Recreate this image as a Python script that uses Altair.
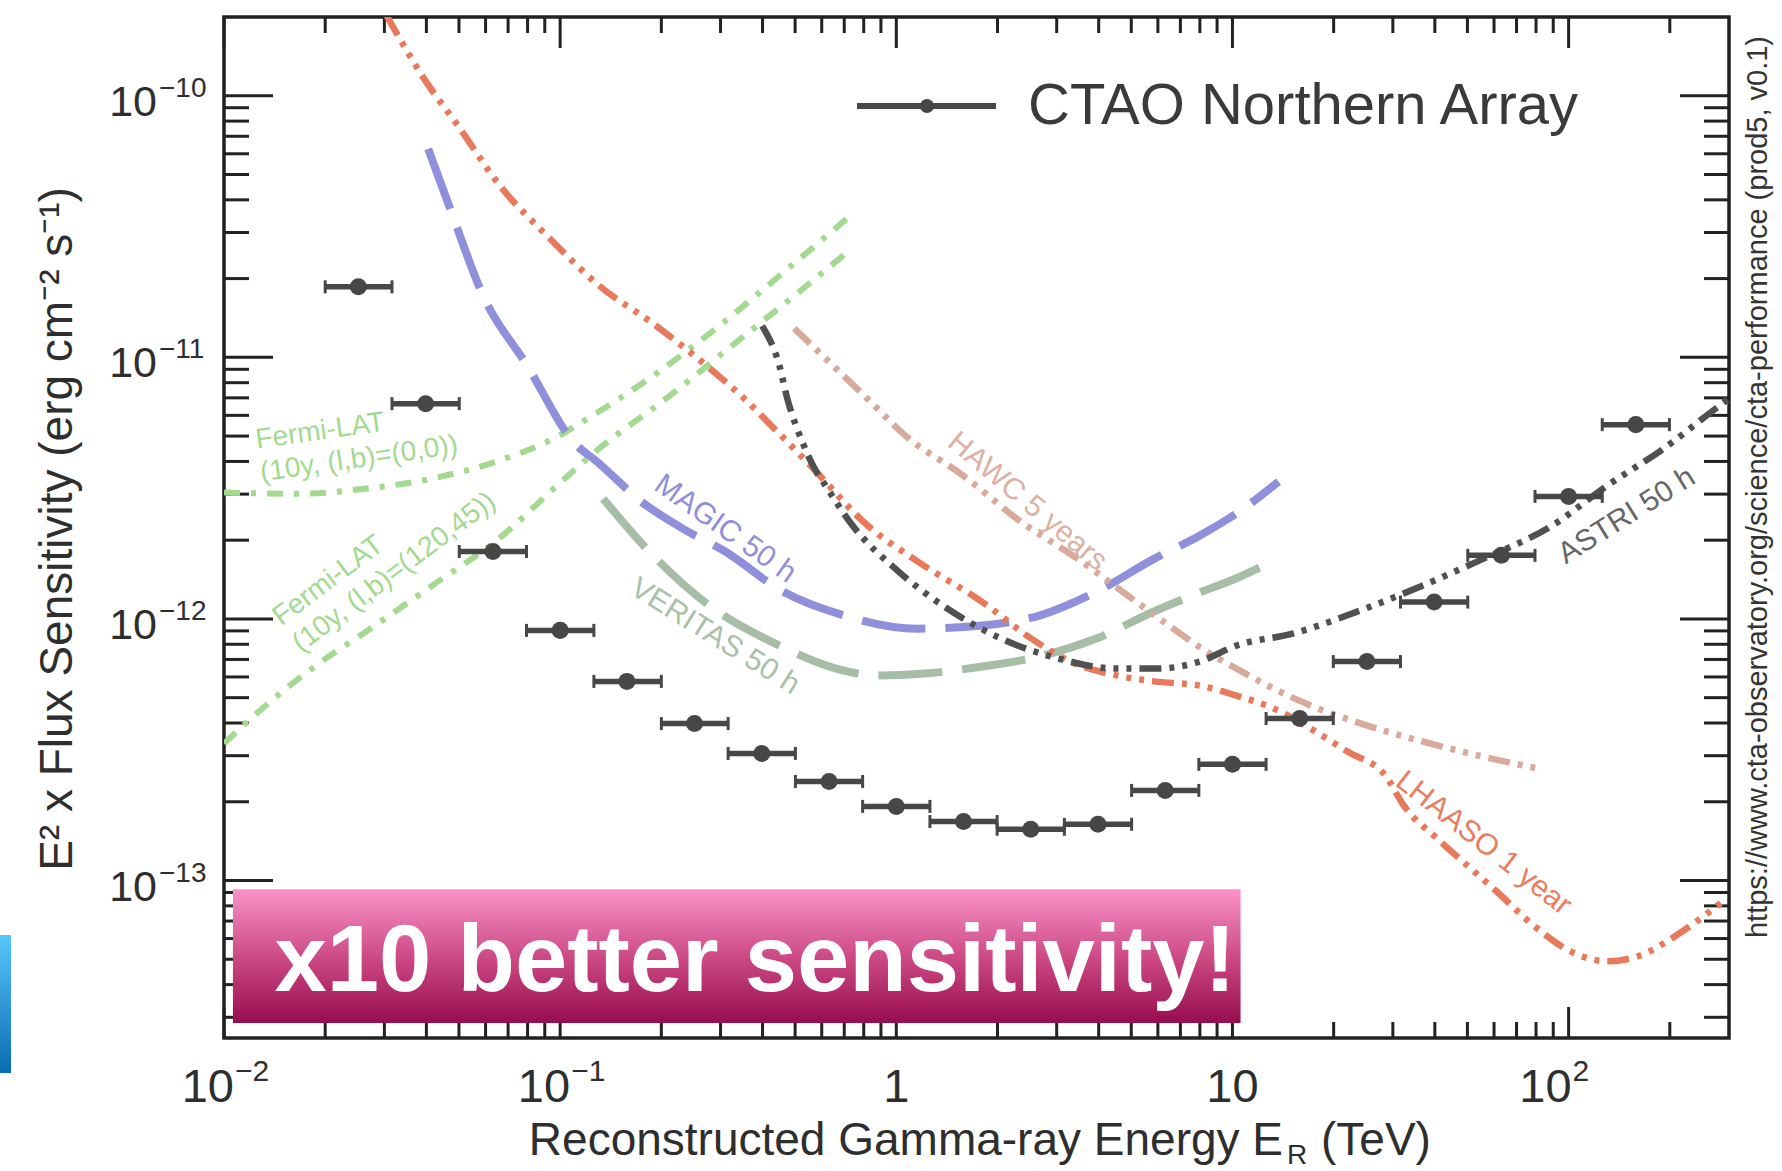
import altair as alt
import pandas as pd

# ---------------- data ----------------
# CTAO Northern Array (prod5) differential sensitivity, 5 bins per decade
ctao_energy = [0.0251, 0.0398, 0.0631, 0.1, 0.158, 0.251, 0.398, 0.631, 1.0, 1.585,
               2.512, 3.981, 6.310, 10.0, 15.85, 25.12, 39.81, 63.10, 100.0, 158.5]
ctao_flux = [1.86e-11, 6.65e-12, 1.81e-12, 9.04e-13, 5.77e-13, 3.98e-13, 3.06e-13, 2.39e-13,
             1.92e-13, 1.68e-13, 1.57e-13, 1.64e-13, 2.21e-13, 2.78e-13, 4.16e-13, 6.87e-13,
             1.16e-12, 1.75e-12, 2.94e-12, 5.53e-12]
ctao_bin_edges = [0.0200, 0.0316, 0.0501, 0.0794, 0.126, 0.200, 0.316, 0.501, 0.794, 1.259, 1.995,
                  3.162, 5.012, 7.943, 12.59, 19.95, 31.62, 50.12, 79.43, 125.9, 199.5]

lhaaso_E = [0.0305, 0.0394, 0.0497, 0.0662, 0.0933, 0.1306, 0.193, 0.279, 0.353, 0.425, 0.566,
            0.820, 1.156, 1.803, 2.523, 3.296, 4.519, 5.861, 7.980, 10.28, 13.24, 17.06, 21.98,
            28.51, 32.28, 41.59, 61.09, 78.70, 101.4, 130.6, 160.3, 218.3, 295.1]
lhaaso_F = [2.02e-10, 1.16e-10, 7.67e-11, 4.53e-11, 2.84e-11, 1.88e-11, 1.32e-11, 9.06e-12,
            6.95e-12, 5.48e-12, 3.76e-12, 2.28e-12, 1.66e-12, 1.16e-12, 8.41e-13, 6.87e-13,
            6.08e-13, 5.77e-13, 5.56e-13, 5.09e-13, 4.55e-13, 3.81e-13, 3.11e-13, 2.52e-13,
            1.94e-13, 1.41e-13, 9.08e-14, 6.73e-14, 5.36e-14, 4.91e-14, 5.13e-14, 6.40e-14, 8.55e-14]

magic_E = [0.0405, 0.0474, 0.0590, 0.0798, 0.1094, 0.1306, 0.1742, 0.2323, 0.3097, 0.461, 0.700,
           1.156, 1.803, 2.667, 3.936, 5.861, 7.980, 10.28, 13.71]
magic_F = [6.27e-11, 3.61e-11, 1.72e-11, 9.29e-12, 4.76e-12, 3.93e-12, 2.81e-12, 2.21e-12, 1.81e-12,
           1.27e-12, 1.03e-12, 9.18e-13, 9.44e-13, 1.03e-12, 1.27e-12, 1.70e-12, 2.08e-12, 2.53e-12,
           3.35e-12]

veritas_E = [0.1343, 0.1841, 0.279, 0.449, 0.662, 0.883, 1.211, 1.803, 2.667, 3.936, 5.861,
             7.980, 10.28, 13.24]
veritas_F = [2.88e-12, 1.81e-12, 1.12e-12, 7.91e-13, 6.46e-13, 6.08e-13, 6.18e-13, 6.58e-13,
             7.18e-13, 8.41e-13, 1.07e-12, 1.26e-12, 1.43e-12, 1.67e-12]

hawc_E = [0.497, 0.820, 1.064, 1.581, 2.339, 3.459, 4.875, 6.668, 8.375, 10.28, 13.24, 17.06,
          25.06, 36.73, 53.58, 80.91]
hawc_F = [1.29e-11, 6.95e-12, 5.02e-12, 3.53e-12, 2.36e-12, 1.70e-12, 1.23e-12, 9.18e-13,
          7.50e-13, 6.46e-13, 5.42e-13, 4.67e-13, 3.92e-13, 3.40e-13, 3.01e-13, 2.68e-13]

astri_E = [0.399, 0.449, 0.474, 0.525, 0.578, 0.615, 0.740, 1.014, 1.459, 2.051, 3.034, 4.519,
           6.026, 7.980, 10.28, 15.10, 25.06, 36.73, 53.58, 89.54, 130.6, 191.9, 266.7, 299.2]
astri_F = [1.32e-11, 9.29e-12, 6.95e-12, 4.76e-12, 3.66e-12, 3.24e-12, 2.28e-12, 1.52e-12,
           1.07e-12, 8.41e-13, 7.06e-13, 6.46e-13, 6.46e-13, 6.87e-13, 7.91e-13, 8.79e-13,
           1.10e-12, 1.34e-12, 1.66e-12, 2.28e-12, 3.24e-12, 4.48e-12, 6.21e-12, 6.95e-12]

fermi00_E = [0.0100, 0.0167, 0.0265, 0.0416, 0.0658, 0.0993, 0.114, 0.1841, 0.291, 0.449, 0.724]
fermi00_F = [3.04e-12, 3.01e-12, 3.15e-12, 3.44e-12, 4.03e-12, 5.02e-12, 5.58e-12, 8.30e-12,
             1.29e-11, 2.05e-11, 3.45e-11]

fermi12045_E = [0.0100, 0.0130, 0.0188, 0.0265, 0.0416, 0.0658, 0.0993, 0.1306, 0.2065, 0.325,
                0.514, 0.724]
fermi12045_F = [3.34e-13, 4.55e-13, 6.64e-13, 8.95e-13, 1.34e-12, 2.03e-12, 3.29e-12, 4.48e-12,
                6.95e-12, 1.11e-11, 1.78e-11, 2.56e-11]

# curve labels: text, anchor energy, anchor flux, angle, colour
label_text = ["MAGIC 50 h", "VERITAS 50 h", "HAWC 5 years", "ASTRI 50 h", "LHAASO 1 year"]
label_E = [0.310, 0.289, 2.455, 148.9, 55.85]
label_F = [2.21e-12, 8.57e-13, 2.81e-12, 2.48e-12, 1.39e-13]
label_angle = [35, 32, 40, 328, 38]
label_color = ["#8f8fdb", "#a9c0a9", "#dcb0a3", "#666666", "#ea7d5f"]

fermi_label_text = ["Fermi-LAT\n(10y, (l,b)=(0,0))", "Fermi-LAT\n(10y, (l,b)=(120,45))"]
fermi_label_E = [0.01253, 0.01479]
fermi_label_F = [4.48e-12, 9.35e-13]
fermi_label_angle = [352, 323]

# axis ticks and labels
x_major = [0.01, 0.1, 1, 10, 100]
x_minor = [0.02, 0.03, 0.04, 0.05, 0.06, 0.07, 0.08, 0.09,
           0.2, 0.3, 0.4, 0.5, 0.6, 0.7, 0.8, 0.9,
           2, 3, 4, 5, 6, 7, 8, 9,
           20, 30, 40, 50, 60, 70, 80, 90, 200]
x_label_base = ["10", "10", "1", "10", "10"]
x_label_exp = ["\u22122", "\u22121", "", "", "2"]
x_label_kind = ["neg", "neg", "plain", "plain", "pos"]

y_major = [1e-13, 1e-12, 1e-11, 1e-10]
y_minor = [3e-14, 4e-14, 5e-14, 6e-14, 7e-14, 8e-14, 9e-14,
           2e-13, 3e-13, 4e-13, 5e-13, 6e-13, 7e-13, 8e-13, 9e-13,
           2e-12, 3e-12, 4e-12, 5e-12, 6e-12, 7e-12, 8e-12, 9e-12,
           2e-11, 3e-11, 4e-11, 5e-11, 6e-11, 7e-11, 8e-11, 9e-11]
y_label_exp = ["\u221213", "\u221212", "\u221211", "\u221210"]

# annotation box
box_E = [0.01063, 10.57]
box_F = [2.85e-14, 9.25e-14]
box_text = "x10 better sensitivity!"
box_text_E = [0.365]
box_text_F = [3.77e-14]

legend_label = "CTAO Northern Array"
x_title_main = "Reconstructed Gamma-ray Energy E"
x_title_sub = "R"
x_title_unit = "(TeV)"
y_title = "E\u00b2 x Flux Sensitivity (erg cm\u207b\u00b2 s\u207b\u00b9)"
url_text = "https://www.cta-observatory.org/science/cta-performance (prod5, v0.1)"

# ---------------- chart ----------------
W, H = 1505, 1021
FONT = "Liberation Sans"
AX = "#222222"
TXT = "#2e2e2e"

xs = alt.Scale(type="log", domain=[0.01, 300], nice=False)
ys = alt.Scale(type="log", domain=[2.5e-14, 2e-10], nice=False)


def X(field):
    return alt.X(field, type="quantitative", scale=xs, axis=None)


def Y(field):
    return alt.Y(field, type="quantitative", scale=ys, axis=None)


one = pd.DataFrame({"a": [0]})


# ticks (inward, on all four sides)
def xticks(vals, length):
    df = pd.DataFrame({"v": vals})
    base = alt.Chart(df)
    bottom = base.mark_rule(color=AX, strokeWidth=3).encode(
        x=X("v"), y=alt.value(H), y2=alt.value(H - length))
    top = base.mark_rule(color=AX, strokeWidth=3).encode(
        x=X("v"), y=alt.value(0), y2=alt.value(length))
    return [bottom, top]


def yticks(vals, length):
    df = pd.DataFrame({"v": vals})
    base = alt.Chart(df)
    left = base.mark_rule(color=AX, strokeWidth=3).encode(
        y=Y("v"), x=alt.value(0), x2=alt.value(length))
    right = base.mark_rule(color=AX, strokeWidth=3).encode(
        y=Y("v"), x=alt.value(W), x2=alt.value(W - length))
    return [left, right]


layers = []
layers += xticks(x_major, 31) + xticks(x_minor, 16)
layers += yticks(y_major, 49) + yticks(y_minor, 25)

# tick labels
xl = pd.DataFrame({"v": x_major, "base": x_label_base, "exp": x_label_exp, "kind": x_label_kind})
xlc = alt.Chart(xl)
for kind, dxb in (("neg", 10), ("pos", 3)):
    layers.append(xlc.transform_filter(alt.datum.kind == kind).mark_text(
        font=FONT, fontSize=47, color=TXT, align="right", baseline="alphabetic", dx=dxb).encode(
        x=X("v"), y=alt.value(1085), text="base:N"))
    layers.append(xlc.transform_filter(alt.datum.kind == kind).mark_text(
        font=FONT, fontSize=30, color=TXT, align="left", baseline="alphabetic", dx=dxb + 1).encode(
        x=X("v"), y=alt.value(1064), text="exp:N"))
layers.append(xlc.transform_filter(alt.datum.kind == "plain").mark_text(
    font=FONT, fontSize=47, color=TXT, align="center", baseline="alphabetic").encode(
    x=X("v"), y=alt.value(1085), text="base:N"))

yl = pd.DataFrame({"v": y_major, "exp": y_label_exp})
ylc = alt.Chart(yl)
layers.append(ylc.mark_text(font=FONT, fontSize=43, color=TXT, align="right",
                            baseline="alphabetic", dy=20, text="10").encode(
    y=Y("v"), x=alt.value(-67)))
layers.append(ylc.mark_text(font=FONT, fontSize=28, color=TXT, align="left",
                            baseline="alphabetic", dy=1).encode(
    y=Y("v"), x=alt.value(-65), text="exp:N"))

# axis titles and side note
layers.append(alt.Chart(one).mark_text(font=FONT, fontSize=46, color=TXT, align="right",
                                       baseline="alphabetic", text=x_title_main).encode(
    x=alt.value(1059), y=alt.value(1138)))
layers.append(alt.Chart(one).mark_text(font=FONT, fontSize=28, color=TXT, align="left",
                                       baseline="alphabetic", text=x_title_sub).encode(
    x=alt.value(1063), y=alt.value(1147)))
layers.append(alt.Chart(one).mark_text(font=FONT, fontSize=46, color=TXT, align="left",
                                       baseline="alphabetic", text=x_title_unit).encode(
    x=alt.value(1097), y=alt.value(1138)))
layers.append(alt.Chart(one).mark_text(font=FONT, fontSize=46, color=TXT, align="center",
                                       baseline="alphabetic", angle=270, text=y_title).encode(
    x=alt.value(-152), y=alt.value(512)))
layers.append(alt.Chart(one).mark_text(font=FONT, fontSize=29, color="#333333", align="center",
                                       baseline="alphabetic", angle=270, text=url_text).encode(
    x=alt.value(1543), y=alt.value(470)))


# curves
def curve(E, F, color, dash, width):
    df = pd.DataFrame({"E": E, "F": F, "i": list(range(len(E)))})
    return alt.Chart(df).mark_line(color=color, strokeDash=dash, strokeWidth=width, clip=True,
                                   interpolate="monotone", strokeCap="butt").encode(
        x=X("E"), y=Y("F"), order=alt.Order("i:Q"))


dashdot3 = [22, 8, 5, 8, 5, 8, 5, 8]
fermi_dash = [16, 11, 5, 11]
layers.append(curve(fermi00_E, fermi00_F, "#a3d990", fermi_dash, 6))
layers.append(curve(fermi12045_E, fermi12045_F, "#a3d990", fermi_dash, 6))
layers.append(curve(veritas_E, veritas_F, "#a6bea6", [64, 20], 8))
layers.append(curve(magic_E, magic_F, "#8f8fdb", [64, 20], 8))
layers.append(curve(hawc_E, hawc_F, "#d8aa9b", dashdot3, 6.5))
layers.append(curve(lhaaso_E, lhaaso_F, "#e9795b", dashdot3, 6.5))
layers.append(curve(astri_E, astri_F, "#505050", dashdot3, 6.5))

# curve labels
for t, e, f, a, c in zip(label_text, label_E, label_F, label_angle, label_color):
    d = pd.DataFrame({"E": [e], "F": [f], "t": [t]})
    layers.append(alt.Chart(d).mark_text(font=FONT, fontSize=30, color=c, angle=a,
                                         align="center", baseline="middle").encode(
        x=X("E"), y=Y("F"), text="t:N"))
for t, e, f, a in zip(fermi_label_text, fermi_label_E, fermi_label_F, fermi_label_angle):
    d = pd.DataFrame({"E": [e], "F": [f], "t": [t]})
    layers.append(alt.Chart(d).mark_text(font=FONT, fontSize=28, color="#a3d990", angle=a,
                                         align="left", baseline="alphabetic", lineBreak="\n",
                                         lineHeight=33).encode(
        x=X("E"), y=Y("F"), text="t:N"))

# CTAO points with energy-bin error bars
CT = "#474747"
ct = pd.DataFrame({"E": ctao_energy, "F": ctao_flux,
                   "lo": ctao_bin_edges[:-1], "hi": ctao_bin_edges[1:]})
caps = pd.DataFrame({"E": ctao_bin_edges[:-1] + ctao_bin_edges[1:], "F": ctao_flux + ctao_flux})
layers.append(alt.Chart(ct).mark_rule(color=CT, strokeWidth=5.5).encode(
    x=X("lo"), x2="hi", y=Y("F")))
layers.append(alt.Chart(caps).mark_tick(color=CT, orient="vertical", size=13, thickness=3,
                                        opacity=1).encode(x=X("E"), y=Y("F")))
layers.append(alt.Chart(ct).mark_circle(color=CT, size=290, opacity=1).encode(
    x=X("E"), y=Y("F")))

# legend
layers.append(alt.Chart(one).mark_rule(color=CT, strokeWidth=6).encode(
    x=alt.value(633), x2=alt.value(772), y=alt.value(89)))
layers.append(alt.Chart(one).mark_circle(color=CT, size=200, opacity=1).encode(
    x=alt.value(703), y=alt.value(89)))
layers.append(alt.Chart(one).mark_text(font=FONT, fontSize=58, color="#3a3a3a", align="left",
                                       baseline="alphabetic", text=legend_label).encode(
    x=alt.value(804), y=alt.value(107)))

# highlight box
pink = alt.LinearGradient(gradient="linear", x1=0, y1=0, x2=0, y2=1,
                          stops=[alt.GradientStop(color="#fa92c8", offset=0),
                                 alt.GradientStop(color="#c8447f", offset=0.55),
                                 alt.GradientStop(color="#970d4f", offset=1)])
bx = pd.DataFrame({"x1": [box_E[0]], "x2": [box_E[1]], "y1": [box_F[0]], "y2": [box_F[1]]})
layers.append(alt.Chart(bx).mark_rect(color=pink, opacity=1).encode(
    x=X("x1"), x2="x2", y=Y("y1"), y2="y2"))
bt = pd.DataFrame({"E": box_text_E, "F": box_text_F, "t": [box_text]})
layers.append(alt.Chart(bt).mark_text(font=FONT, fontSize=94, fontWeight="bold", color="white",
                                      align="center", baseline="alphabetic", dx=6).encode(
    x=X("E"), y=Y("F"), text="t:N"))

# blue slide-edge bar at far left
blue = alt.LinearGradient(gradient="linear", x1=0, y1=0, x2=0, y2=1,
                          stops=[alt.GradientStop(color="#57c6f9", offset=0),
                                 alt.GradientStop(color="#0a6cb3", offset=1)])
layers.append(alt.Chart(one).mark_rect(color=blue, opacity=1).encode(
    x=alt.value(-224), x2=alt.value(-213), y=alt.value(918), y2=alt.value(1056)))

chart = alt.layer(*layers).properties(
    width=W, height=H,
    autosize=alt.AutoSizeParams(type="none"),
    padding={"left": 224, "top": 17, "right": 53, "bottom": 133},
    background="white",
).configure_view(stroke=AX, strokeWidth=3.5)

chart.save("out.html", embed_options={"renderer": "svg", "actions": False})
